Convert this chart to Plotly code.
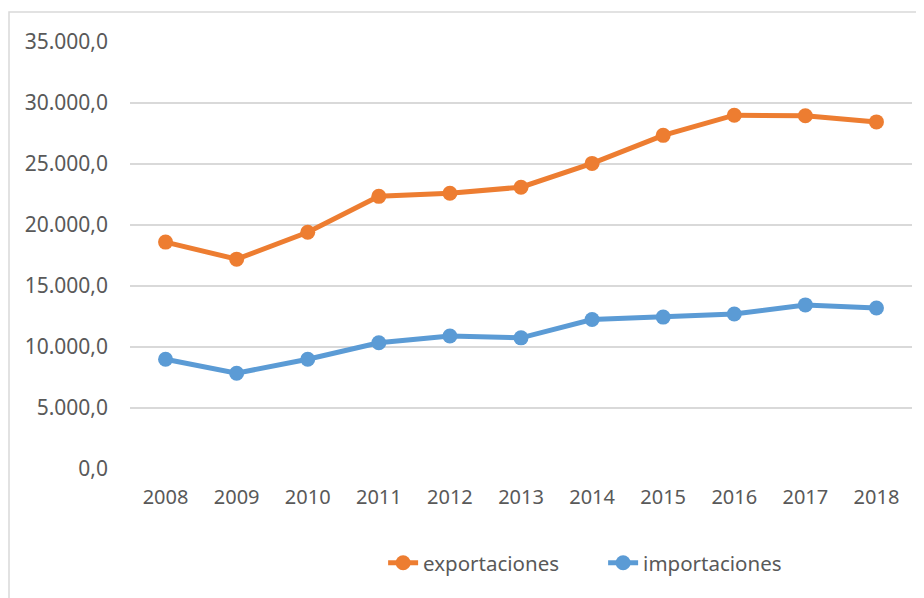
import plotly.graph_objects as go

years = ["2008", "2009", "2010", "2011", "2012", "2013", "2014", "2015", "2016", "2017", "2018"]
exportaciones = [18600, 17200, 19400, 22350, 22600, 23100, 25050, 27350, 29000, 28950, 28450]
importaciones = [9000, 7850, 9000, 10350, 10900, 10750, 12250, 12450, 12700, 13450, 13200]
y_ticks = [0, 5000, 10000, 15000, 20000, 25000, 30000, 35000]

W, H = 924, 598
font = "Noto Sans"
L, T, PW, PH = 122, 34, 782, 427

fig = go.Figure()
fig.add_trace(go.Scatter(x=years, y=exportaciones, name="exportaciones", mode="lines+markers",
                         line=dict(color="#ED7D31", width=5), marker=dict(size=15, color="#ED7D31")))
fig.add_trace(go.Scatter(x=years, y=importaciones, name="importaciones", mode="lines+markers",
                         line=dict(color="#5B9BD5", width=5), marker=dict(size=15, color="#5B9BD5")))

fig.update_layout(
    width=W, height=H,
    paper_bgcolor="white", plot_bgcolor="white",
    margin=dict(l=L, r=W - L - PW, t=T, b=H - T - PH, autoexpand=False),
    separators=",.",
    font=dict(family=font, size=20, color="#595959"),
    showlegend=True,
    legend=dict(orientation="h", x=0.605, xanchor="center", y=-0.22, yanchor="middle",
                font=dict(size=20.5, color="#595959"), traceorder="normal", entrywidth=175),
    shapes=[dict(type="rect", xref="paper", yref="paper",
                 x0=-(L - 1) / PW, x1=1.2,
                 y0=-0.5, y1=1 + (T - 4) / PH,
                 line=dict(color="#D9D9D9", width=1.5), layer="below")],
)
fig.update_xaxes(type="category", range=[-0.5, len(years) - 0.5], showgrid=False, showline=False,
                 ticks="", automargin=False,
                 tickfont=dict(size=20, color="#595959"), ticklabelstandoff=14)
fig.update_yaxes(range=[0, 35000], tickvals=y_ticks, tickformat=",.1f", automargin=False,
                 showgrid=True, gridcolor="#D9D9D9", gridwidth=1.5, zeroline=False,
                 showline=False, ticks="", tickfont=dict(size=21, color="#595959"),
                 ticklabelstandoff=21)

fig.write_html("out.html")
